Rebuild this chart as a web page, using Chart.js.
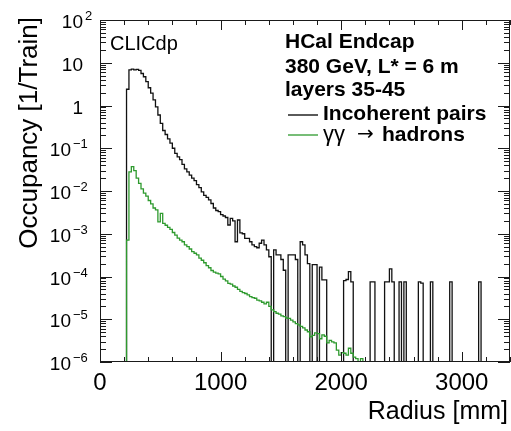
<!DOCTYPE html>
<html>
<head>
<meta charset="utf-8">
<script src="https://cdn.jsdelivr.net/npm/chart.js@4.4.1/dist/chart.umd.min.js"></script>
<style>
  html, body { margin: 0; padding: 0; background: #fff; }
  canvas { display: block; }
</style>
</head>
<body>
<canvas id="occupancyChart" width="511" height="431"></canvas>
<script>
// Radius binning [mm]
const binWidth = 20;
const radiusMax = 3400;

// Occupancy per 20 mm bin [1/Train], first bin starts at 0 mm; 0 = empty bin
const incoherentPairs = [
  0, 0, 0, 0, 0, 0, 0, 0, 0, 0,
  0, 2.4, 6.8, 7.1, 6.8, 7.0, 6.6, 5.6, 4.7, 3.6,
  2.6, 1.95, 1.35, 0.93, 0.60, 0.38, 0.26, 0.21, 0.166, 0.132,
  0.10, 0.076, 0.063, 0.054, 0.042, 0.033, 0.028, 0.0234, 0.020, 0.0174,
  0.0141, 0.012, 0.0095, 0.0079, 0.0071, 0.0062, 0.0051, 0.0040, 0.0035, 0.0033,
  0.0028, 0.0026, 0.0024, 0.0016, 0.0023, 0.0020, 6.5e-4, 0.0021, 1.05e-3, 1.0e-3,
  7.8e-4, 7.8e-4, 6.5e-4, 5.5e-4, 5.0e-4, 4.7e-4, 6.0e-4, 7.1e-4, 5.5e-4, 4.2e-4,
  2.9e-4, 0, 4.2e-4, 3.2e-4, 3.2e-4, 2.5e-4, 1.4e-4, 0, 3.2e-4, 3.2e-4,
  3.2e-4, 2.5e-4, 0, 6.5e-4, 5.5e-4, 3.2e-4, 2.0e-4, 0, 1.9e-4, 1.9e-4,
  0, 1.66e-4, 8.3e-5, 8.3e-5, 0, 0, 0, 0, 0, 0,
  0, 8.0e-5, 8.5e-5, 1.3e-4, 7.5e-5, 0, 0, 0, 0, 0,
  0, 0, 7.5e-5, 7.5e-5, 0, 0, 0, 0, 7.5e-5, 7.5e-5,
  1.5e-4, 7.5e-5, 0, 0, 7.5e-5, 0, 7.5e-5, 0, 0, 0,
  0, 0, 7.5e-5, 7.0e-5, 0, 0, 0, 7.5e-5, 0, 0,
  0, 0, 0, 0, 0, 7.5e-5, 0, 0, 0, 0,
  0, 0, 0, 0, 0, 0, 0, 7.5e-5, 0, 0,
  0, 0, 0, 0, 0, 0, 0, 0, 0, 0
];

const gammaGammaHadrons = [
  0, 0, 0, 0, 0, 0, 0, 0, 0, 0,
  0, 7.1e-4, 0.028, 0.037, 0.030, 0.020, 0.015, 0.0112, 0.0089, 0.0076,
  0.0060, 0.0050, 0.0040, 0.0036, 0.0019, 0.0030, 1.74e-3, 1.58e-3, 1.41e-3, 1.26e-3,
  1.07e-3, 9.3e-4, 7.9e-4, 7.1e-4, 6.5e-4, 5.5e-4, 5.0e-4, 4.4e-4, 3.8e-4, 3.5e-4,
  3.2e-4, 2.7e-4, 2.4e-4, 2.1e-4, 1.8e-4, 1.6e-4, 1.38e-4, 1.26e-4, 1.2e-4, 1.15e-4,
  1.0e-4, 8.7e-5, 7.9e-5, 6.9e-5, 6.6e-5, 6.0e-5, 5.6e-5, 5.0e-5, 4.5e-5, 4.2e-5,
  4.0e-5, 3.7e-5, 3.4e-5, 3.2e-5, 3.1e-5, 2.8e-5, 2.7e-5, 2.5e-5, 2.3e-5, 2.5e-5,
  2.0e-5, 1.66e-5, 1.5e-5, 1.38e-5, 1.32e-5, 1.2e-5, 1.15e-5, 1.07e-5, 1.05e-5, 9.5e-6,
  8.7e-6, 7.9e-6, 7.4e-6, 6.8e-6, 6.3e-6, 5.6e-6, 5.1e-6, 3.9e-6, 4.2e-6, 4.8e-6,
  4.6e-6, 3.5e-6, 4.3e-6, 4.0e-6, 2.8e-6, 3.2e-6, 2.95e-6, 2.8e-6, 1.9e-6, 1.45e-6,
  1.66e-6, 1.6e-6, 1.45e-6, 2.1e-6, 1.6e-6, 1.3e-6, 1.2e-6, 0, 1.2e-6, 0,
  0, 0, 0, 0, 0, 0, 0, 0, 0, 0,
  0, 0, 0, 0, 0, 0, 0, 0, 0, 0,
  0, 0, 0, 0, 0, 0, 0, 0, 0, 0,
  0, 0, 0, 0, 0, 0, 0, 0, 0, 0,
  0, 0, 0, 0, 0, 0, 0, 0, 0, 0,
  0, 0, 0, 0, 0, 0, 0, 0, 0, 0
];

// Axis labels
const xTickValues = [0, 1000, 2000, 3000];
const yTickExponents = [2, 1, 0, -1, -2, -3, -4, -5, -6];
const yMin = 1e-6;
const yMax = 1e2;

const FONT = '"Liberation Sans", Arial, Helvetica, sans-serif';
const GREEN = "#2e9a2e";

// Histogram as a stepped line: one point at each bin's low edge, plus the last edge.
// Empty bins sit on the axis minimum, like ROOT draws them.
function histPoints(values) {
  const pts = values.map((v, i) => ({ x: i * binWidth, y: v > 0 ? v : yMin }));
  pts.push({ x: values.length * binWidth, y: pts[pts.length - 1].y });
  return pts;
}

// Frame, inward ticks on all four sides, tick labels, titles and legend box
const rootStyleFrame = {
  id: "rootStyleFrame",
  afterDatasetsDraw(chart) {
    const { ctx, chartArea: a, scales } = chart;
    const xs = scales.x;
    const ys = scales.y;
    ctx.save();

    ctx.strokeStyle = "#1a1a1a";
    ctx.lineWidth = 1;
    ctx.strokeRect(a.left + 0.5, a.top + 0.5, a.right - a.left - 1, a.bottom - a.top - 1);

    ctx.beginPath();
    for (let v = 0; v <= radiusMax; v += 200) {
      const px = Math.round(xs.getPixelForValue(v)) + 0.5;
      const len = v % 1000 === 0 ? 10 : 5;
      ctx.moveTo(px, a.bottom);
      ctx.lineTo(px, a.bottom - len);
      ctx.moveTo(px, a.top);
      ctx.lineTo(px, a.top + len);
    }
    for (let e = -6; e <= 2; e++) {
      for (let m = 1; m <= 9; m++) {
        const v = m * Math.pow(10, e);
        if (v > yMax) break;
        const py = Math.round(ys.getPixelForValue(v)) + 0.5;
        const len = m === 1 ? 12 : 6;
        ctx.moveTo(a.left, py);
        ctx.lineTo(a.left + len, py);
        ctx.moveTo(a.right, py);
        ctx.lineTo(a.right - len, py);
      }
    }
    ctx.stroke();

    ctx.fillStyle = "#000";
    ctx.textBaseline = "alphabetic";

    // y tick labels: 1, 10 and powers of ten with a raised exponent
    yTickExponents.forEach((e) => {
      const py = ys.getPixelForValue(Math.pow(10, e));
      const base = e === 0 ? "1" : "10";
      const baseRight = e < 0 ? 71 : 83;
      ctx.font = "19px " + FONT;
      ctx.textAlign = "right";
      ctx.fillText(base, baseRight, py + 8);
      if (e !== 0 && e !== 1) {
        ctx.font = "13px " + FONT;
        ctx.textAlign = "left";
        ctx.fillText(e < 0 ? "\u2212" + -e : String(e), baseRight + 2, py);
      }
    });

    // x tick labels
    ctx.font = "24px " + FONT;
    ctx.textAlign = "center";
    xTickValues.forEach((v) => {
      ctx.fillText(String(v), xs.getPixelForValue(v), 390);
    });

    // axis titles
    ctx.font = "25px " + FONT;
    ctx.textAlign = "right";
    ctx.fillText("Radius [mm]", 508, 419);
    ctx.save();
    ctx.translate(37, 17);
    ctx.rotate(-Math.PI / 2);
    ctx.font = "26px " + FONT;
    ctx.fillText("Occupancy [1/Train]", 0, 0);
    ctx.restore();

    // experiment label
    ctx.textAlign = "left";
    ctx.font = "20px " + FONT;
    ctx.fillText("CLICdp", 110, 50);

    // legend text block
    const bold = "bold 21px " + FONT;
    ctx.font = bold;
    ctx.fillText("HCal Endcap", 285, 48);
    ctx.fillText("380 GeV, L* = 6 m", 285, 73);
    ctx.fillText("layers 35-45", 285, 96);
    ctx.fillText("Incoherent pairs", 323, 120);

    ctx.font = "22px " + FONT;
    ctx.fillText("\u03b3\u03b3", 323, 141);
    ctx.font = '20px "DejaVu Sans", ' + FONT;
    ctx.fillText("\u2192", 357, 140);
    ctx.font = bold;
    ctx.fillText("hadrons", 382, 141);

    ctx.lineWidth = 1.3;
    ctx.strokeStyle = "#000";
    ctx.beginPath();
    ctx.moveTo(288, 115);
    ctx.lineTo(318, 115);
    ctx.stroke();
    ctx.strokeStyle = GREEN;
    ctx.beginPath();
    ctx.moveTo(288, 135);
    ctx.lineTo(318, 135);
    ctx.stroke();

    ctx.restore();
  },
};

const ctx = document.getElementById("occupancyChart").getContext("2d");
new Chart(ctx, {
  type: "line",
  data: {
    datasets: [
      {
        label: "Incoherent pairs",
        data: histPoints(incoherentPairs),
        borderColor: "#111",
        borderWidth: 1.3,
        stepped: true,
        pointRadius: 0,
        fill: false,
        order: 1,
      },
      {
        label: "\u03b3\u03b3 \u2192 hadrons",
        data: histPoints(gammaGammaHadrons),
        borderColor: GREEN,
        borderWidth: 1.3,
        stepped: true,
        pointRadius: 0,
        fill: false,
        order: 0,
      },
    ],
  },
  options: {
    responsive: false,
    animation: false,
    events: [],
    layout: { padding: { left: 100, top: 20, right: 1, bottom: 69 } },
    scales: {
      x: { type: "linear", min: 0, max: radiusMax, display: false },
      y: { type: "logarithmic", min: yMin, max: yMax, display: false },
    },
    plugins: {
      legend: { display: false },
      tooltip: { enabled: false },
    },
  },
  plugins: [rootStyleFrame],
});
</script>
</body>
</html>
